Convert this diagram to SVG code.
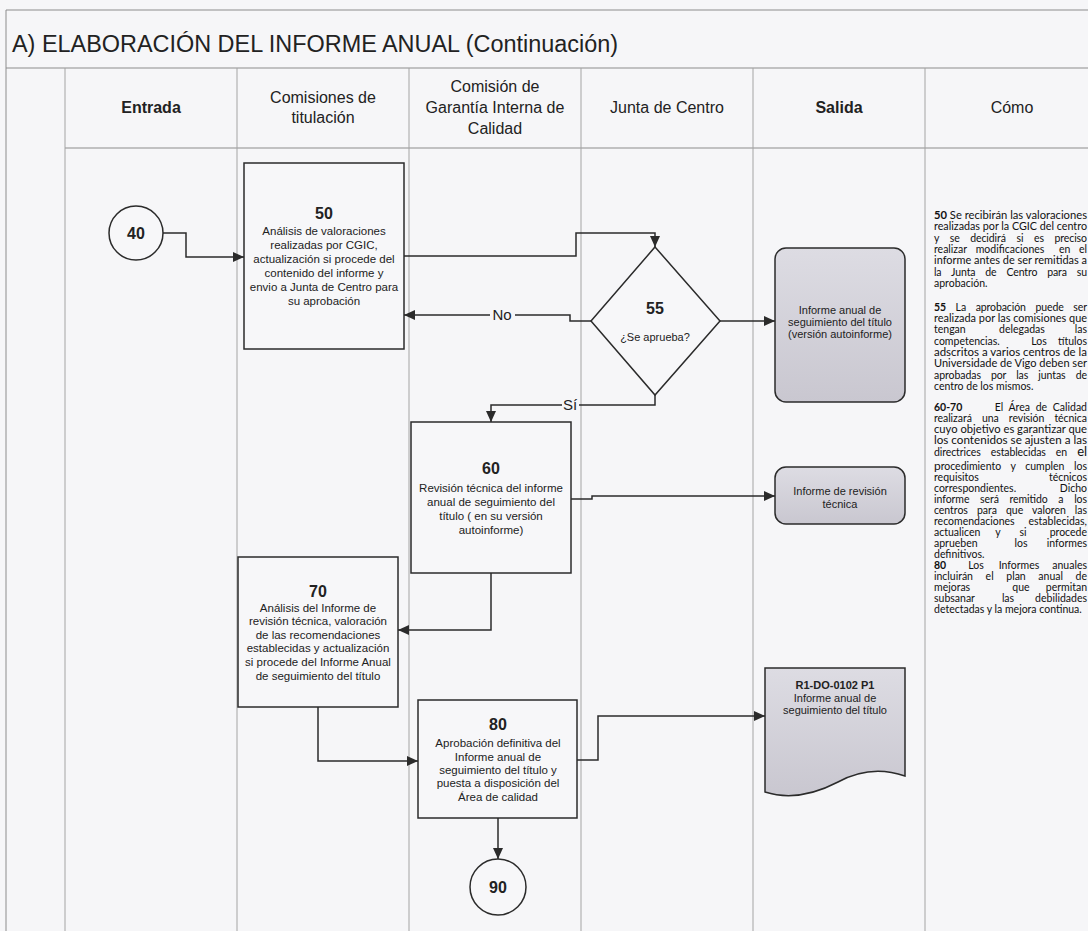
<svg xmlns="http://www.w3.org/2000/svg" width="1088" height="931" viewBox="0 0 1088 931">
<style>
.frame{stroke:#8c8c8c;stroke-width:1;fill:none}
.lane{stroke:#a4a4a4;stroke-width:1;fill:none}
.hdr{font-family:"Liberation Sans",Arial,sans-serif;font-size:16px;fill:#222;text-anchor:middle}
.hdrb{font-weight:bold}
.box{fill:#f7f7f9;stroke:#2b2b2b;stroke-width:1.5}
.out{fill:url(#gout);stroke:#2b2b2b;stroke-width:1.5}
.num{font-family:"Liberation Sans",Arial,sans-serif;font-size:16px;font-weight:bold;fill:#222;text-anchor:middle}
.t{font-family:"Liberation Sans",Arial,sans-serif;font-size:11.5px;fill:#222;text-anchor:middle}
.ts{font-family:"Liberation Sans",Arial,sans-serif;font-size:11px;fill:#222;text-anchor:middle}
.lbl{font-family:"Liberation Sans",Arial,sans-serif;font-size:15px;fill:#222;text-anchor:middle}
.con{fill:none;stroke:#2b2b2b;stroke-width:1.5}
.c{font-family:Lato,"Open Sans",sans-serif;font-size:10.5px;fill:#111}
.cb{font-weight:bold}
.e{text-anchor:end}
.m{text-anchor:middle}
</style>
<defs>
<marker id="arr" markerWidth="12" markerHeight="10" refX="11" refY="5" orient="auto" markerUnits="userSpaceOnUse">
<path d="M0,0 L11,5 L0,10 Z" fill="#2b2b2b"/>
</marker>
<linearGradient id="gout" x1="0" y1="0" x2="0" y2="1">
<stop offset="0" stop-color="#dddce3"/>
<stop offset="1" stop-color="#c9c7d0"/>
</linearGradient>
</defs>
<rect x="0" y="0" width="1088" height="931" fill="#f6f6f8"/>

<g id="table">
<path class="frame" d="M6,10 H1088 M6,10 V931 M6,68 H1088 M65,148 H1088"/>
<path class="lane" d="M65,68 V931 M237,68 V931 M409,68 V931 M581,68 V931 M753,68 V931 M925,68 V931"/>
<text x="12" y="52" font-family="Liberation Sans,Arial,sans-serif" font-size="23" fill="#222" textLength="606" lengthAdjust="spacingAndGlyphs">A) ELABORACIÓN DEL INFORME ANUAL (Continuación)</text>
<text class="hdr hdrb" x="151" y="113">Entrada</text>
<text class="hdr" x="323" y="103">Comisiones de</text>
<text class="hdr" x="323" y="123">titulación</text>
<text class="hdr" x="495" y="92">Comisión de</text>
<text class="hdr" x="495" y="113">Garantía Interna de</text>
<text class="hdr" x="495" y="134">Calidad</text>
<text class="hdr" x="667" y="113">Junta de Centro</text>
<text class="hdr hdrb" x="839" y="113">Salida</text>
<text class="hdr" x="1012" y="113">Cómo</text>
</g>

<g id="connectors">
<path class="con" marker-end="url(#arr)" d="M163,233 H186 V257 H244"/>
<path class="con" marker-end="url(#arr)" d="M404,256 H576 V233 H655 V247"/>
<path class="con" marker-end="url(#arr)" d="M591,321 H570 V315 H404"/>
<path class="con" marker-end="url(#arr)" d="M720,321 H775"/>
<path class="con" marker-end="url(#arr)" d="M655,395 V405 H491 V422"/>
<path class="con" marker-end="url(#arr)" d="M571,499 H592 V496 H775"/>
<path class="con" marker-end="url(#arr)" d="M491,573 V630 H398"/>
<path class="con" marker-end="url(#arr)" d="M318,707 V761 H418"/>
<path class="con" marker-end="url(#arr)" d="M577,760 H598 V716 H765"/>
<path class="con" marker-end="url(#arr)" d="M498,818 V859"/>
<rect x="490" y="306" width="25" height="18" fill="#f6f6f8"/>
<text class="lbl" x="502" y="320">No</text>
<rect x="562" y="396" width="17" height="18" fill="#f6f6f8"/>
<text class="lbl" x="570" y="410">Sí</text>
</g>

<g id="n40">
<circle cx="136" cy="233" r="27" fill="#f7f7f9" stroke="#2b2b2b" stroke-width="1.5"/>
<text class="num" x="136" y="239">40</text>
</g>

<g id="n50">
<rect class="box" x="244" y="163" width="160" height="186"/>
<text class="num" x="324" y="219">50</text>
<text class="t" x="324" y="235">Análisis de valoraciones</text>
<text class="t" x="324" y="249">realizadas por CGIC,</text>
<text class="t" x="324" y="263">actualización si procede del</text>
<text class="t" x="324" y="277">contenido del informe y</text>
<text class="t" x="324" y="291">envio a Junta de Centro para</text>
<text class="t" x="324" y="305">su aprobación</text>
</g>

<g id="n55">
<path d="M655,247 L720,321 L655,395 L591,321 Z" fill="#f7f7f9" stroke="#2b2b2b" stroke-width="1.5"/>
<text class="num" x="655" y="314">55</text>
<text class="ts" x="655" y="341">¿Se aprueba?</text>
</g>

<g id="out55">
<rect class="out" x="775" y="248" width="130" height="154" rx="11"/>
<text class="ts" x="840" y="314">Informe anual de</text>
<text class="ts" x="840" y="326">seguimiento del título</text>
<text class="ts" x="840" y="338">(versión autoinforme)</text>
</g>

<g id="n60">
<rect class="box" x="411" y="422" width="160" height="151"/>
<text class="num" x="491" y="474">60</text>
<text class="t" x="491" y="492">Revisión técnica  del informe</text>
<text class="t" x="491" y="506">anual de  seguimiento del</text>
<text class="t" x="491" y="520">título ( en su versión</text>
<text class="t" x="491" y="534">autoinforme)</text>
</g>

<g id="out60">
<rect class="out" x="775" y="467" width="130" height="57" rx="11"/>
<text class="ts" x="840" y="495">Informe de revisión</text>
<text class="ts" x="840" y="508">técnica</text>
</g>

<g id="n70">
<rect class="box" x="238" y="557" width="160" height="150"/>
<text class="num" x="318" y="597">70</text>
<text class="t" x="318" y="612">Análisis del Informe de</text>
<text class="t" x="318" y="625">revisión técnica, valoración</text>
<text class="t" x="318" y="639">de las recomendaciones</text>
<text class="t" x="318" y="652">establecidas y actualización</text>
<text class="t" x="318" y="666">si procede del Informe Anual</text>
<text class="t" x="318" y="680">de seguimiento del título</text>
</g>

<g id="n80">
<rect class="box" x="418" y="700" width="159" height="118"/>
<text class="num" x="498" y="730">80</text>
<text class="t" x="498" y="747">Aprobación definitiva del</text>
<text class="t" x="498" y="761">Informe anual de</text>
<text class="t" x="498" y="774">seguimiento del título y</text>
<text class="t" x="498" y="787">puesta a disposición del</text>
<text class="t" x="498" y="801">Área de calidad</text>
</g>

<g id="r1">
<path class="out" d="M765,668 H905 V776 C882,768 860,770 838,782 C815,794 790,800 765,792 Z"/>
<text class="ts" x="835" y="689" font-weight="bold">R1-DO-0102 P1</text>
<text class="ts" x="835" y="702">Informe anual de</text>
<text class="ts" x="835" y="714">seguimiento del título</text>
</g>

<g id="n90">
<circle cx="498" cy="887" r="28" fill="#f7f7f9" stroke="#2b2b2b" stroke-width="1.5"/>
<text class="num" x="498" y="893">90</text>
</g>

<g id="como">
<text class="c" x="934" y="219" textLength="153" lengthAdjust="spacingAndGlyphs"><tspan class="cb">50</tspan> Se recibirán las valoraciones</text>
<text class="c" x="934" y="230" textLength="153" lengthAdjust="spacingAndGlyphs">realizadas por la CGIC del centro</text>
<text class="c" x="934" y="241.5" textLength="153" lengthAdjust="spacing" word-spacing="8">y se decidirá si es preciso</text>
<text class="c" x="934" y="253">realizar</text><text class="c m" x="1010" y="253">modificaciones</text><text class="c" x="1059" y="253">en</text><text class="c e" x="1087" y="253">el</text>
<text class="c" x="934" y="264" textLength="153" lengthAdjust="spacingAndGlyphs">informe antes de ser remitidas a</text>
<text class="c" x="934" y="275.5" textLength="153" lengthAdjust="spacing" word-spacing="7.4">la Junta de Centro para su</text>
<text class="c" x="934" y="287">aprobación.</text>

<text class="c" x="934" y="310.5" textLength="153" lengthAdjust="spacing" word-spacing="7"><tspan class="cb">55</tspan> La aprobación puede ser</text>
<text class="c" x="934" y="322" textLength="153" lengthAdjust="spacingAndGlyphs">realizada por las comisiones que</text>
<text class="c" x="934" y="333">tengan</text><text class="c m" x="1022" y="333">delegadas</text><text class="c e" x="1087" y="333">las</text>
<text class="c" x="934" y="344.5">competencias.</text><text class="c m" x="1039" y="344.5">Los</text><text class="c e" x="1087" y="344.5">títulos</text>
<text class="c" x="934" y="356" textLength="153" lengthAdjust="spacingAndGlyphs">adscritos a varios centros de la</text>
<text class="c" x="934" y="367" textLength="153" lengthAdjust="spacingAndGlyphs">Universidade de Vigo deben ser</text>
<text class="c" x="934" y="378.5" textLength="153" lengthAdjust="spacing" word-spacing="7.4">aprobadas por las juntas de</text>
<text class="c" x="934" y="390">centro de los mismos.</text>

<text class="c cb" x="934" y="411">60-70</text><text class="c e" x="1087" y="411" word-spacing="3">El Área de Calidad</text>
<text class="c" x="934" y="422" textLength="153" lengthAdjust="spacing" word-spacing="7.5">realizará una revisión técnica</text>
<text class="c" x="934" y="433" textLength="153" lengthAdjust="spacingAndGlyphs">cuyo objetivo es garantizar que</text>
<text class="c" x="934" y="444" textLength="153" lengthAdjust="spacingAndGlyphs">los contenidos se ajusten a las</text>
<text class="c" x="934" y="456" textLength="153" lengthAdjust="spacing" word-spacing="7.5">directrices establecidas en <tspan font-size="13">el</tspan></text>
<text class="c" x="934" y="469.5" textLength="153" lengthAdjust="spacing" word-spacing="7"><tspan font-size="12">p</tspan>rocedimiento y cumplen los</text>
<text class="c" x="934" y="480.5">requisitos</text><text class="c e" x="1087" y="480.5">técnicos</text>
<text class="c" x="934" y="491.5">correspondientes.</text><text class="c e" x="1087" y="491.5">Dicho</text>
<text class="c" x="934" y="502.5" textLength="153" lengthAdjust="spacing" word-spacing="8">informe será remitido a los</text>
<text class="c" x="934" y="513.5" textLength="153" lengthAdjust="spacing" word-spacing="6.5">centros para que valoren las</text>
<text class="c" x="934" y="524.5">recomendaciones</text><text class="c e" x="1087" y="524.5">establecidas,</text>
<text class="c" x="934" y="535.5">actualicen</text><text class="c m" x="998" y="535.5">y</text><text class="c m" x="1023" y="535.5">si</text><text class="c e" x="1087" y="535.5">procede</text>
<text class="c" x="934" y="546.5">aprueben</text><text class="c m" x="1021" y="546.5">los</text><text class="c e" x="1087" y="546.5">informes</text>
<text class="c" x="934" y="557.5">definitivos.</text>
<text class="c cb" x="934" y="568.5">80</text><text class="c m" x="976" y="568.5">Los</text><text class="c m" x="1019" y="568.5">Informes</text><text class="c e" x="1087" y="568.5">anuales</text>
<text class="c" x="934" y="579.5" textLength="153" lengthAdjust="spacing" word-spacing="10">incluirán el plan anual de</text>
<text class="c" x="934" y="590.5">mejoras</text><text class="c m" x="1021" y="590.5">que</text><text class="c e" x="1087" y="590.5">permitan</text>
<text class="c" x="934" y="601.5">subsanar</text><text class="c m" x="1008" y="601.5">las</text><text class="c e" x="1087" y="601.5">debilidades</text>
<text class="c" x="934" y="612.5">detectadas y la mejora continua.</text>
</g>
</svg>
